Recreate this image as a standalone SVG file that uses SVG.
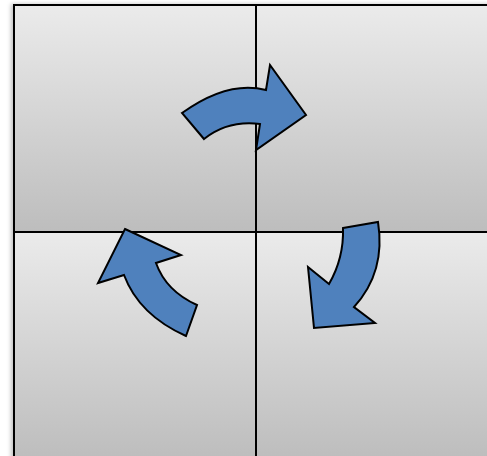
<svg xmlns="http://www.w3.org/2000/svg" width="487" height="456" viewBox="0 0 487 456">
<defs>
<linearGradient id="g" x1="0" y1="0" x2="0" y2="1">
<stop offset="0" stop-color="#EBEBEB"/>
<stop offset="1" stop-color="#BDBDBD"/>
</linearGradient>
<filter id="sh" x="-10%" y="-10%" width="120%" height="120%">
<feDropShadow dx="-2" dy="0" stdDeviation="2" flood-color="#000" flood-opacity="0.25"/>
</filter>
<style>
.box{fill:url(#g);stroke:#000;stroke-width:2}
.arr{fill:#4F81BD;stroke:#000;stroke-width:2;stroke-linejoin:miter}
</style>
</defs>
<rect width="487" height="456" fill="#fff"/>
<g filter="url(#sh)">
<g id="box-tl"><rect class="box" x="14" y="5" width="242" height="227"/></g>
<g id="box-tr"><rect class="box" x="256" y="5" width="242" height="227"/></g>
<g id="box-bl"><rect class="box" x="14" y="232" width="242" height="227"/></g>
<g id="box-br"><rect class="box" x="256" y="232" width="242" height="227"/></g>
</g>
<g id="arrows">
<path class="arr" d="M182,113 Q228,80 266,90 L270,65 L306,115 L256,150 L260,124 Q228,120 204,139 Z"/>
<path class="arr" d="M343,228 L378,222 Q386,272 354,307 L375,323 L314,328 L308,267 L329,284 Q344,258 343,228 Z"/>
<path class="arr" d="M125,229 L181,255 L156,263 Q166,291 197,305 L186,336 Q139,315 124,275 L98,283 Z"/>
</g>
</svg>
